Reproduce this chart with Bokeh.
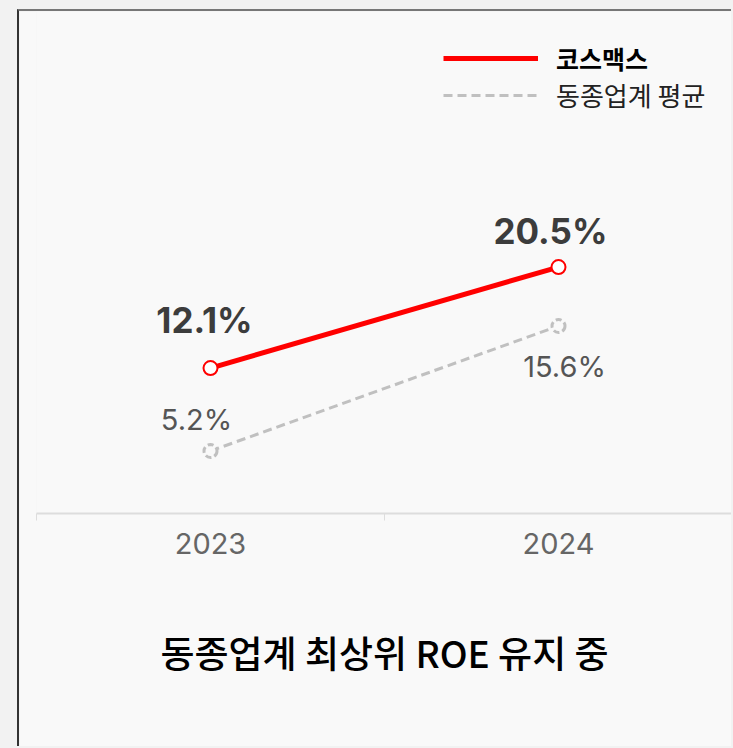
from bokeh.plotting import figure
from bokeh.models import (Range1d, LinearAxis, FixedTicker, Legend, LegendItem,
                          Title, GlobalInlineStyleSheet)
from bokeh.embed import file_html
from bokeh.resources import INLINE
from bokeh.core.properties import value

# ---- data ----
years = ["2023", "2024"]
cosmax = [12.1, 20.5]
industry = [5.2, 15.6]
cosmax_labels = ["12.1%", "20.5%"]
industry_labels = ["5.2%", "15.6%"]
series_names = ["코스맥스", "동종업계 평균"]
subtitle = "동종업계 최상위 ROE 유지 중"

# ---- label offsets (style, px) ----
cosmax_dx = [-6, -8]
cosmax_dy = [-48, -36]
industry_dx = [-14, 6]
industry_dy = [-31, 41]

xs = [i + 0.5 for i in range(len(years))]
bounds = list(range(len(years) + 1))

RED = "#ff0000"
GRAY = "#c0c0c0"
BG = "#f9f9f9"

p = figure(width=714, height=737,
           x_range=Range1d(0, len(years)), y_range=Range1d(0, 41.76),
           x_axis_location=None, y_axis_location=None,
           toolbar_location=None, output_backend="svg",
           min_border_left=17, min_border_right=1, min_border_top=0,
           min_border_bottom=235)
p.background_fill_color = BG
p.border_fill_color = BG
p.outline_line_color = None
p.grid.visible = False

xaxis = LinearAxis(ticker=FixedTicker(ticks=xs, minor_ticks=bounds),
                   major_label_overrides={x: y for x, y in zip(xs, years)})
xaxis.axis_line_color = "#dddddd"
xaxis.axis_line_width = 2
xaxis.major_tick_line_color = None
xaxis.major_tick_out = 0
xaxis.major_tick_in = 0
xaxis.minor_tick_line_color = "#dddddd"
xaxis.minor_tick_line_width = 1
xaxis.minor_tick_out = 7
xaxis.minor_tick_in = 0
xaxis.major_label_standoff = 12
xaxis.major_label_text_font = "Inter"
xaxis.major_label_text_font_size = "29px"
xaxis.major_label_text_color = "#666666"
p.add_layout(xaxis, "below")

r2 = p.line(xs, industry, line_color=GRAY, line_width=3, line_dash="9 5")
r1 = p.line(xs, cosmax, line_color=RED, line_width=5)
p.scatter(xs, industry, size=13, fill_color=BG, line_color=GRAY,
          line_width=3, line_dash="6 3")
p.scatter(xs, cosmax, size=14, fill_color="white", line_color=RED, line_width=2)

p.text(xs, cosmax, text=cosmax_labels, x_offset=cosmax_dx, y_offset=cosmax_dy,
       text_align="center", text_baseline="alphabetic",
       text_font=value("Inter"), text_font_style="bold",
       text_font_size="35px", text_color="#3c3c3c")
p.text(xs, industry, text=industry_labels, x_offset=industry_dx, y_offset=industry_dy,
       text_align="center", text_baseline="alphabetic",
       text_font=value("Inter"), text_font_style="normal",
       text_font_size="29px", text_color="#555555")

common = dict(glyph_width=95, glyph_height=30, label_height=30, label_standoff=18,
              padding=0, margin=0, spacing=0, border_line_color=None,
              background_fill_alpha=0, label_text_font="Noto Sans CJK KR")
leg1 = Legend(items=[LegendItem(label=series_names[0], renderers=[r1])],
              location=(407, 437), label_text_font_style="bold",
              label_text_font_size="25px", label_text_color="#000000", **common)
leg2 = Legend(items=[LegendItem(label=series_names[1], renderers=[r2])],
              location=(407, 400), label_text_font_style="normal",
              label_text_font_size="26px", label_text_color="#222222", **common)
p.add_layout(leg1)
p.add_layout(leg2)

t = Title(text=subtitle, align="center",
          text_font="'Noto Sans CJK KR Medium', 'Noto Sans CJK KR'",
          text_font_size="37px", text_font_style="normal", text_color="#000000",
          standoff=132)
p.add_layout(t, "below")

p.styles = {"margin-left": "17px", "margin-top": "9px",
            "border-left": "2px solid #333333", "border-top": "2px solid #777777"}
p.stylesheets = [GlobalInlineStyleSheet(css="html, body { background-color: #f2f2f2; }")]

open("out.html", "w").write(file_html(p, INLINE))
